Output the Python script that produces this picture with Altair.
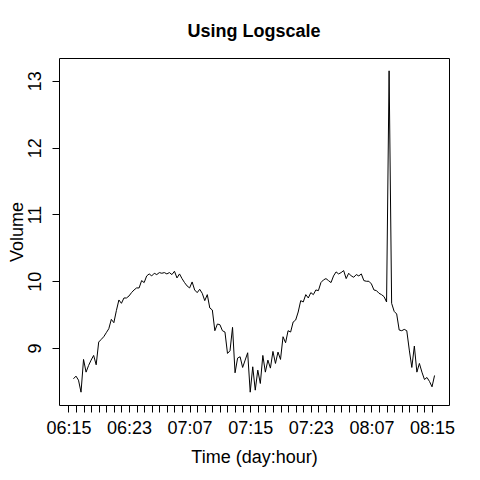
import altair as alt
import pandas as pd

# Log volume, sampled every 20 minutes starting 40 min after day 06, hour 15
start_hour = 2 / 3
step_hours = 1 / 3
volume = [
    8.54, 8.58, 8.52, 8.34, 8.83, 8.64, 8.74, 8.82, 8.89, 8.75,
    9.09, 9.13, 9.17, 9.23, 9.29, 9.43, 9.38, 9.56, 9.72, 9.67,
    9.75, 9.75, 9.78, 9.83, 9.87, 9.90, 9.90, 10.01, 9.98, 10.08,
    10.11, 10.08, 10.12, 10.10, 10.13, 10.12, 10.13, 10.11, 10.13, 10.10,
    10.15, 10.05, 10.11, 10.04, 9.98, 9.93, 9.90, 9.99, 9.87, 9.83,
    9.88, 9.82, 9.71, 9.80, 9.60, 9.57, 9.26, 9.36, 9.35, 9.26,
    9.24, 8.92, 8.96, 9.31, 8.63, 8.85, 8.87, 8.71, 8.82, 8.93,
    8.34, 8.72, 8.37, 8.67, 8.47, 8.89, 8.64, 8.82, 8.70, 8.95,
    8.77, 8.94, 8.83, 9.17, 9.08, 9.26, 9.24, 9.39, 9.42, 9.54,
    9.71, 9.69, 9.80, 9.75, 9.83, 9.80, 9.87, 9.86, 9.98, 10.02,
    10.04, 10.01, 9.98, 10.08, 10.14, 10.11, 10.13, 10.16, 10.04, 10.12,
    10.08, 10.06, 10.10, 10.08, 10.11, 10.01, 10.00, 10.00, 9.96, 9.87,
    9.86, 9.82, 9.80, 9.77, 9.69, 13.15, 9.67, 9.55, 9.51, 9.27,
    9.26, 9.28, 9.26, 8.97, 8.71, 9.03, 8.64, 8.77, 8.64, 8.53,
    8.56, 8.50, 8.42, 8.59,
]
hours = [start_hour + step_hours * i for i in range(len(volume))]

tick_hours = list(range(49))
label_hours = [0, 8, 16, 24, 32, 40, 48]
tick_labels = ["06:15", "06:23", "07:07", "07:15", "07:23", "08:07", "08:15"]
y_ticks = [9, 10, 11, 12, 13]

label_expr = "''"
for h, lab in reversed(list(zip(label_hours, tick_labels))):
    label_expr = f"datum.value == {h} ? '{lab}' : ({label_expr})"

df = pd.DataFrame({"hour": hours, "volume": volume})

FONT = "Liberation Sans"

chart = (
    alt.Chart(df)
    .mark_line(color="black", strokeWidth=1, clip=True)
    .encode(
        x=alt.X(
            "hour:Q",
            scale=alt.Scale(domain=[-1.24, 50.24], nice=False, zero=False),
            axis=alt.Axis(
                values=tick_hours,
                labelExpr=label_expr,
                title="Time (day:hour)",
                grid=False,
                domain=False,
                tickSize=7,
                tickColor="black",
                tickWidth=1,
                labelPadding=7,
                labelFontSize=18,
                labelFont=FONT,
                labelColor="black",
                labelOverlap=False,
                labelFlush=False,
                titleFontSize=18,
                titleFont=FONT,
                titleFontWeight="normal",
                titleColor="black",
                titleY=52,
                titleBaseline="middle",
            ),
        ),
        y=alt.Y(
            "volume:Q",
            scale=alt.Scale(domain=[8.148, 13.342], nice=False, zero=False),
            axis=alt.Axis(
                values=y_ticks,
                title="Volume",
                grid=False,
                domain=False,
                tickSize=7,
                tickColor="black",
                tickWidth=1,
                labelAngle=270,
                labelAlign="center",
                labelBaseline="bottom",
                labelPadding=8,
                labelFontSize=18,
                labelFont=FONT,
                labelColor="black",
                labelOverlap=False,
                titleFontSize=18,
                titleFont=FONT,
                titleFontWeight="normal",
                titleColor="black",
                titleAngle=270,
                titleX=-42,
                titleY=173.5,
                titleAlign="center",
                titleBaseline="middle",
            ),
        ),
    )
    .properties(
        width=390,
        height=347,
        padding={"left": 51, "top": 50, "right": 23, "bottom": 67},
        autosize=alt.AutoSizeParams(type="none"),
        title=alt.TitleParams(
            "Using Logscale",
            fontSize=18,
            font=FONT,
            fontWeight="bold",
            anchor="middle",
            baseline="middle",
            offset=8,
            color="black",
        ),
    )
    .configure_view(stroke="black", strokeWidth=1)
)

chart.save("out.html", embed_options={"renderer": "svg", "actions": False})
